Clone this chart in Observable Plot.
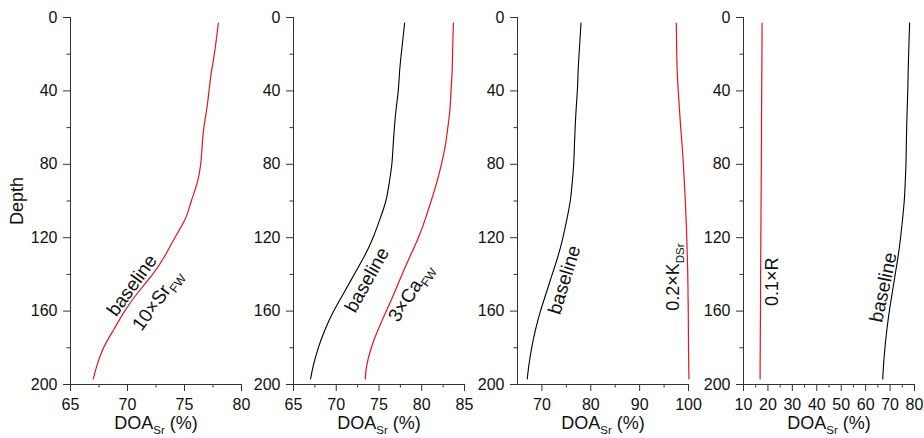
<!DOCTYPE html>
<html>
<head>
<meta charset="utf-8">
<script src="https://cdn.jsdelivr.net/npm/d3@7"></script>
<script src="https://cdn.jsdelivr.net/npm/@observablehq/plot@0.6"></script>
<style>
  html, body { margin: 0; padding: 0; background: #fff; }
  #chart { position: relative; width: 924px; height: 438px; font-family: "Liberation Sans", Arial, sans-serif; }
  #chart > div { position: absolute; top: 0; }
</style>
</head>
<body>
<div id="chart"></div>
<script>
// ---- data (depth grid and DOA_Sr values, %) ----
const depth = [3, 20, 30, 40, 50, 60, 70, 80, 90, 100, 110, 120, 130, 140, 150, 160, 170, 180, 190, 197];
const baseline = [78.0, 77.6, 77.4, 77.25, 77.0, 76.8, 76.65, 76.5, 76.2, 75.8, 75.1, 74.3, 73.3, 72.1, 70.9, 69.7, 68.7, 67.9, 67.3, 67.0];
const srFW10 = [77.97, 77.62, 77.35, 77.15, 76.95, 76.7, 76.55, 76.42, 76.12, 75.6, 75.05, 74.15, 73.27, 72.2, 70.9, 69.75, 68.8, 67.9, 67.3, 67.0];
const caFW3 = [83.7, 83.6, 83.55, 83.42, 83.3, 83.05, 82.75, 82.3, 81.75, 81.1, 80.4, 79.6, 78.65, 77.7, 76.8, 75.85, 74.9, 74.1, 73.55, 73.4];
const kDSr02 = [97.5, 97.6, 97.7, 97.9, 98.15, 98.4, 98.7, 98.95, 99.15, 99.35, 99.5, 99.65, 99.75, 99.85, 99.9, 99.95, 99.98, 100.0, 100.05, 100.1];
const r01 = [17.6, 17.55, 17.5, 17.45, 17.4, 17.35, 17.35, 17.3, 17.25, 17.2, 17.15, 17.1, 17.05, 17.0, 17.0, 16.95, 16.9, 16.85, 16.8, 16.8];

const depthMajor = [0, 40, 80, 120, 160, 200];
const depthMinor = [20, 60, 100, 140, 180];

const panels = [
  {left: 0, ml: 70, domain: [65, 80], major: [65, 70, 75, 80], minor: [67.5, 72.5, 77.5],
   black: baseline, red: srFW10, showBlack: false,
   labels: [
     {x: 70.4, y: 146, text: "baseline", rotate: -54, size: 19},
     {x: 72.6, y: 154, text: "10×Sr{FW}", rotate: -54, size: 19}
   ]},
  {left: 243, ml: 50, domain: [65, 85], major: [65, 70, 75, 80, 85], minor: [67.5, 72.5, 77.5, 82.5],
   black: baseline, red: caFW3, showBlack: true,
   labels: [
     {x: 73.6, y: 143, text: "baseline", rotate: -61, size: 19},
     {x: 78.7, y: 150, text: "3×Ca{FW}", rotate: -57, size: 19}
   ]},
  {left: 467, ml: 50, domain: [65, 100], major: [70, 80, 90, 100], minor: [75, 85, 95],
   black: baseline, red: kDSr02, showBlack: true,
   labels: [
     {x: 74.6, y: 143, text: "baseline", rotate: -73, size: 19},
     {x: 96.8, y: 141.5, text: "0.2×K{DSr}", rotate: -90, size: 18}
   ]},
  {left: 693, ml: 50, domain: [10, 80], major: [10, 20, 30, 40, 50, 60, 70, 80], minor: [15, 25, 35, 45, 55, 65, 75],
   black: baseline, red: r01, showBlack: true,
   labels: [
     {x: 21.9, y: 144, text: "0.1×R", rotate: -90, size: 18},
     {x: 67.3, y: 147, text: "baseline", rotate: -78, size: 19}
   ]}
];

const axisColor = "#333";
const ns = "http://www.w3.org/2000/svg";

function subify(svg) {
  svg.querySelectorAll("text").forEach(t => {
    const leaves = t.querySelector("tspan") ? Array.from(t.querySelectorAll("tspan")) : [t];
    leaves.forEach(n => {
      const s = n.textContent;
      if (!s.includes("{")) return;
      n.textContent = "";
      const parts = s.split(/(\{[^}]*\})/).filter(p => p);
      let shifted = false;
      parts.forEach(p => {
        const ts = document.createElementNS(ns, "tspan");
        if (p.startsWith("{")) {
          ts.textContent = p.slice(1, -1);
          ts.setAttribute("font-size", "0.64em");
          ts.setAttribute("dy", "5");
          shifted = true;
        } else {
          ts.textContent = p;
          if (shifted) { ts.setAttribute("dy", "-5"); shifted = false; }
        }
        n.appendChild(ts);
      });
    });
  });
}

const chart = document.getElementById("chart");
panels.forEach((p, i) => {
  const rows = depth.map((d, k) => ({depth: d, black: p.black[k], red: p.red[k]}));
  const marks = [
    Plot.ruleX([p.domain[0]], {stroke: axisColor, strokeWidth: 1}),
    Plot.ruleY([200], {stroke: axisColor, strokeWidth: 1}),
    Plot.axisY({ticks: depthMajor, tickSize: 7, tickPadding: 6, fontSize: 16, stroke: axisColor, color: "#111", label: null}),
    Plot.axisY({ticks: depthMinor, tickSize: 3.5, tickFormat: () => "", stroke: axisColor, label: null}),
    Plot.axisX({ticks: p.major, tickSize: 7, tickPadding: 7, fontSize: 16, stroke: axisColor, color: "#111", label: null}),
    Plot.axisX({ticks: p.minor, tickSize: 3.5, tickFormat: () => "", stroke: axisColor, label: null}),
  ];
  if (p.showBlack) marks.push(Plot.line(rows, {x: "black", y: "depth", stroke: "#000", strokeWidth: 1.1, curve: "natural"}));
  marks.push(Plot.line(rows, {x: "red", y: "depth", stroke: "#e8141c", strokeWidth: 1.2, curve: "natural"}));
  p.labels.forEach(l => {
    marks.push(Plot.text([l], {x: "x", y: "y", text: "text", rotate: l.rotate, fontSize: l.size, fill: "#111", textAnchor: "middle", lineAnchor: "middle"}));
  });
  marks.push(Plot.text(["DOA{Sr} (%)"], {frameAnchor: "bottom", dy: 39, fontSize: 18, fill: "#111", textAnchor: "middle", lineAnchor: "middle"}));
  if (i === 0) marks.push(Plot.text(["Depth"], {frameAnchor: "left", dx: -53, rotate: -90, fontSize: 18, fill: "#111", textAnchor: "middle", lineAnchor: "middle"}));

  const plot = Plot.plot({
    width: p.ml + 171 + 4,
    height: 438,
    marginLeft: p.ml,
    marginRight: 4,
    marginTop: 17,
    marginBottom: 54,
    style: {background: "transparent", fontFamily: "Liberation Sans, Arial, sans-serif", overflow: "visible"},
    x: {domain: p.domain},
    y: {domain: [0, 200], reverse: true},
    marks
  });
  subify(plot);
  const wrap = document.createElement("div");
  wrap.style.left = p.left + "px";
  wrap.appendChild(plot);
  chart.appendChild(wrap);
});
</script>
</body>
</html>
